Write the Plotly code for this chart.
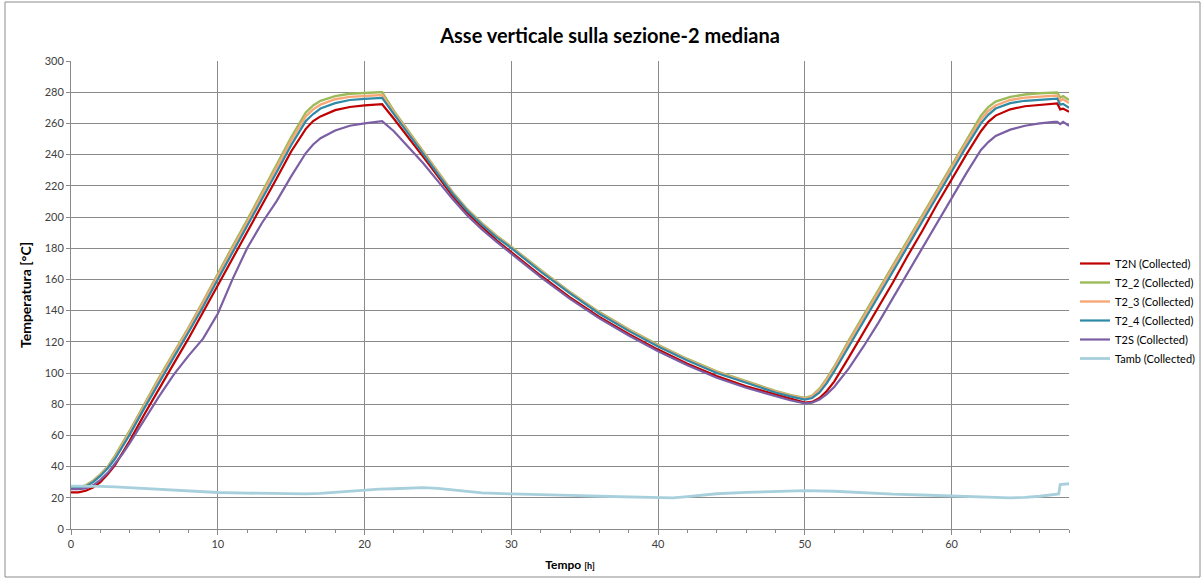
import plotly.graph_objects as go

# ---- data ----
t_hours = [0, 0.5, 1, 1.5, 2, 2.5, 3, 3.5, 4, 5, 6, 7, 8, 9, 10, 11, 12, 13, 14, 15, 16, 16.5,
           17, 18, 19, 20, 21, 21.2, 22, 23, 24, 25, 26, 27, 28, 29, 30, 32, 34, 36, 38, 40,
           42, 44, 46, 48, 49, 50, 50.5, 51, 51.5, 52, 53, 54, 55, 56, 57, 58, 59, 60, 61, 62,
           62.5, 63, 64, 65, 66, 67, 67.2, 67.4, 67.6, 68]

t2n = [23.5, 23.5, 24.5, 26.5, 30, 35, 41, 48.5, 56.5, 73.5, 90, 106, 122, 139, 156, 173, 190,
       207.5, 224.5, 242, 256.5, 261.5, 264.5, 268.5, 270.5, 271.5, 272, 272.3, 263, 251, 238.5,
       226, 213.5, 202.5, 193.5, 185, 177.5, 162.5, 148.5, 136, 125, 115, 106, 98, 91.5, 86,
       83.5, 81, 81.5, 84, 88.5, 94.5, 110, 126, 142, 158, 175, 191, 208, 224, 240, 255, 261,
       265, 269, 271, 272, 272.7, 272.8, 269, 269.5, 267.5]

t2_2 = [26.5, 26.8, 28, 31, 35, 40, 47, 55, 63, 80, 97, 113, 129, 146, 164, 181, 198, 216, 233,
        251, 267, 271.5, 274.5, 277.5, 279, 279.7, 280, 280, 268, 255, 242, 229, 216, 205, 196,
        188, 181, 166, 152, 139, 128, 118, 109, 101, 94.5, 88.5, 86, 84, 85.5, 90, 96.5, 104,
        121, 137, 153, 169, 185, 201, 217, 233, 249, 265, 270.5, 274, 277, 278.5, 279.3, 279.7,
        279.8, 276.5, 277.5, 275]

t2_3 = [26, 26.5, 27.5, 30.5, 34.5, 39.5, 46, 54, 62, 79, 96, 112, 128, 145, 162.5, 179.5, 196.5,
        214, 231, 249, 264.5, 269, 272, 275.5, 277, 277.7, 278, 278.2, 267, 254, 241, 228, 215.5,
        204.5, 195.5, 187.5, 180.5, 165.5, 151.5, 138.5, 127.5, 117.5, 108.5, 100.5, 94, 88,
        85.5, 83.5, 85, 89, 95.5, 103, 119.5, 135.5, 151.5, 167.5, 183.5, 199.5, 215.5, 231.5,
        247.5, 262.5, 268, 271.5, 275, 276.5, 277.3, 277.8, 277.9, 274.5, 275.5, 273]

t2_4 = [26, 26.3, 27.3, 30, 34, 39, 45, 52.5, 60.5, 77.5, 94, 110, 126, 142.5, 160, 177, 194,
        211.5, 228.5, 246, 261.5, 266, 269.5, 273, 275, 275.7, 276, 276.3, 266, 253.5, 240.5,
        227.5, 215, 204, 195, 187, 180, 165, 151, 138, 127, 117, 108, 100, 93.5, 87.5, 85, 83,
        84, 87.5, 93.5, 101, 117, 133, 149, 165, 181, 197, 213, 229, 245, 260, 265.5, 269.5, 273,
        274.5, 275.3, 275.8, 275.9, 272, 272.5, 270]

t2s = [25.5, 25.5, 26, 28, 31.5, 36, 42, 48, 55, 70, 85, 99, 111, 122, 138, 160, 180, 196, 210,
       226, 241, 246.5, 250.5, 255.5, 258.5, 260, 261, 261.5, 255, 245, 234.5, 223, 211.5, 201,
       192, 184, 176.5, 161.5, 147.5, 135, 124, 114, 105, 97, 90.5, 85, 82.5, 80.5, 81, 83,
       86.5, 91, 103, 117, 132, 148, 164, 180, 196, 212, 228, 243, 248, 252, 256, 258.5, 260,
       261, 261, 259.5, 261, 258.5]

tamb_t = [0, 1, 2, 3, 4, 5, 6, 8, 10, 12, 14, 16, 17, 18, 19, 20, 21, 22, 23, 24, 25, 26, 27, 28,
          30, 32, 34, 36, 38, 40, 41, 42, 43, 44, 46, 48, 50, 52, 54, 56, 58, 60, 62, 64, 65, 66,
          67.3, 67.4, 68]
tamb = [27.5, 27.6, 27.3, 27, 26.5, 25.8, 25.2, 24.3, 23.4, 23.0, 22.7, 22.5, 22.8, 23.5, 24.5,
        25.2, 25.6, 25.8, 26.3, 26.5, 26.0, 25.0, 24.0, 23.2, 22.5, 22.2, 21.6, 21.0, 20.5, 19.8,
        20.0, 20.8, 21.8, 22.6, 23.5, 24.0, 24.6, 24.2, 23.2, 22.3, 21.8, 21.2, 20.8, 20.0, 20.3,
        21.0, 22.5, 28.5, 29.0]

series_names = ["T2N (Collected)", "T2_2 (Collected)", "T2_3 (Collected)",
                "T2_4 (Collected)", "T2S (Collected)", "Tamb (Collected)"]

x_ticks = [0, 10, 20, 30, 40, 50, 60]
y_ticks = list(range(0, 301, 20))

# ---- styles ----
colors = ["#C00000", "#9BBB59", "#F8A877", "#2E8AA6", "#7B5EA3", "#A8D0DC"]
widths = [2.2, 2.4, 2.4, 2.2, 2.2, 2.8]
FONT = "Lato, 'Open Sans', sans-serif"

fig = go.Figure()
probe_data = [t2n, t2_2, t2_3, t2_4, t2s]
for name, vals, c, w in zip(series_names[:5], probe_data, colors[:5], widths[:5]):
    fig.add_trace(go.Scatter(x=t_hours, y=vals, mode="lines", name=name,
                             line=dict(color=c, width=w)))
fig.add_trace(go.Scatter(x=tamb_t, y=tamb, mode="lines", name=series_names[5],
                         line=dict(color=colors[5], width=widths[5])))

# body margin is removed by post_script, so the figure fills the page
W, H = 1203, 580
plot_x0, plot_x1, plot_y0, plot_y1 = 71, 1069, 61, 529   # page pixels
L, T = plot_x0, plot_y0
pw, ph = plot_x1 - plot_x0, plot_y1 - plot_y0
R, B = W - L - pw, H - T - ph

fig.update_layout(
    width=W, height=H,
    margin=dict(l=L, r=R, t=T, b=B, autoexpand=False),
    paper_bgcolor="white", plot_bgcolor="white",
    font=dict(family=FONT, size=11, color="#404040"),
    title=dict(text="<b>Asse verticale sulla sezione-2 mediana</b>",
               x=610 / W, xanchor="center", xref="container",
               y=1 - 36 / H, yanchor="middle", yref="container",
               font=dict(family=FONT, size=20, color="#000000")),
    showlegend=True,
    legend=dict(x=(1075 - plot_x0) / pw, xanchor="left",
                y=(plot_y1 - 311) / ph, yanchor="middle",
                font=dict(family=FONT, size=11, color="#000000"),
                bgcolor="rgba(0,0,0,0)", tracegroupgap=0, itemwidth=30),
    xaxis=dict(range=[0, 68], tickvals=x_ticks, showgrid=True, gridcolor="#8A8A8A",
               gridwidth=1, zeroline=False, showline=True, linecolor="#8A8A8A", linewidth=1,
               ticks="outside", ticklen=5, tickcolor="#8A8A8A",
               minor=dict(dtick=2, ticks="outside", ticklen=3, tickcolor="#8A8A8A",
                          showgrid=False),
               tickfont=dict(family=FONT, size=11, color="#404040"),
               title=dict(text="<b>Tempo</b> <b><span style='font-size:9px'>[h]</span></b>",
                          font=dict(family=FONT, size=12, color="#000000"), standoff=11)),
    yaxis=dict(range=[0, 300], tickvals=y_ticks, showgrid=True, gridcolor="#8A8A8A",
               gridwidth=1, zeroline=False, showline=True, linecolor="#8A8A8A", linewidth=1,
               ticks="outside", ticklen=4, tickcolor="#8A8A8A",
               tickfont=dict(family=FONT, size=11, color="#404040"),
               title=dict(text="<b>Temperatura [°C]</b>",
                          font=dict(family=FONT, size=14, color="#000000"), standoff=9)),
)

# outer chart border
fig.add_shape(type="rect", xref="paper", yref="paper",
              x0=(5 - plot_x0) / pw, x1=(1200 - plot_x0) / pw,
              y0=(plot_y1 - 577) / ph, y1=(plot_y1 - 2) / ph,
              line=dict(color="#8C8C8C", width=1), fillcolor="rgba(0,0,0,0)", layer="below")

fig.write_html("out.html", config={"displayModeBar": False},
               post_script="document.body.style.margin='0';document.body.style.padding='0';")
